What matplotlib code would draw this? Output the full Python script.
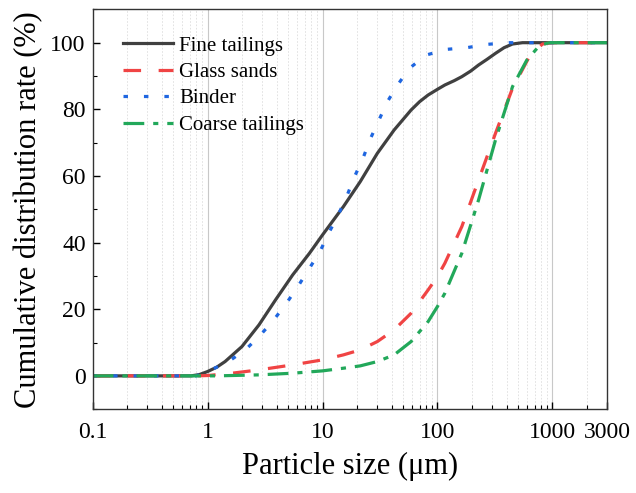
import matplotlib.pyplot as plt
from matplotlib.ticker import FixedLocator, LogLocator, NullFormatter, MultipleLocator

plt.rcParams['font.family'] = 'Liberation Serif'

# Fine tailings
fine_x = [0.1, 0.5, 0.72, 0.85, 1.0, 1.2, 1.42, 1.99, 2.8, 3.9, 5.5, 7.7, 10, 15.2, 21.3, 30, 42, 59, 70, 83,
          100, 116, 140, 163, 195, 228, 270, 320, 380, 450, 550, 700, 3000]
fine_y = [0, 0, 0, 0.4, 1.3, 2.6, 4.3, 8.8, 15.3, 22.8, 30.3, 36.8, 42.3, 50.8, 58.3, 66.8, 73.8, 79.8, 82.3, 84.3,
          86.0, 87.3, 88.6, 89.8, 91.5, 93.3, 95.0, 96.8, 98.5, 99.6, 100, 100, 100]

# Glass sands
glass_x = [0.1, 0.8, 1.0, 1.63, 2.8, 5.5, 10, 15.2, 21.3, 30, 42, 59, 83, 100, 116, 163, 228, 320,
           450, 630, 820, 1000, 3000]
glass_y = [0, 0, 0.1, 0.8, 1.8, 3.3, 4.8, 6.3, 7.8, 10.3, 13.8, 18.8, 25.8, 29.8, 33.8, 44.8, 58.8, 72.8,
           86.3, 95.8, 99.6, 100, 100]

# Binder
binder_x = [0.1, 0.8, 1.0, 1.52, 2.13, 2.8, 3.67, 4.81, 6.1, 7.6, 9.5, 11.3, 13.7, 16.3, 19, 22.5,
            26.2, 31, 36.7, 45, 57, 80, 120, 180, 270, 420, 3000]
binder_y = [0, 0, 1.3, 4.3, 7.8, 11.8, 16.3, 21.6, 26.8, 32, 37.3, 42.8, 48.3, 54, 59.8, 65.3,
            71.3, 76.8, 82.3, 87.3, 92.3, 96.3, 98, 98.5, 99.5, 100, 100]

# Coarse tailings
coarse_x = [0.1, 1.2, 2.8, 5.5, 10, 15.2, 21.3, 30, 42, 59, 83, 100, 116, 163, 228, 320, 450, 600,
            780, 950, 3000]
coarse_y = [0, 0, 0.3, 0.8, 1.5, 2.3, 3.0, 4.3, 6.3, 10.3, 16.3, 20.8, 24.8, 36.8, 52.8, 70.8, 86.8, 94.8,
            99.3, 100, 100]

x_ticks = [0.1, 1, 10, 100, 1000, 3000]
x_labels = ['0.1', '1', '10', '100', '1000', '3000']

fig = plt.figure(figsize=(6.36, 4.93), dpi=100)
ax = fig.add_axes([0.1457, 0.170, 0.809, 0.811])

ax.plot(fine_x, fine_y, color='#404040', lw=2.3, label='Fine tailings')
ax.plot(glass_x, glass_y, color='#f04444', lw=2.3, ls=(0, (5.5, 5.5)), label='Glass sands')
ax.plot(binder_x, binder_y, color='#1f66e0', lw=2.3, ls=(0, (1.4, 5.0)), label='Binder')
ax.plot(coarse_x, coarse_y, color='#22a85a', lw=2.3, ls=(0, (6.5, 2.8, 1.6, 2.8)), label='Coarse tailings')

ax.set_xscale('log')
ax.set_xlim(0.1, 3000)
ax.set_ylim(-10, 110)
ax.xaxis.set_major_locator(FixedLocator(x_ticks))
ax.set_xticklabels(x_labels)
ax.xaxis.set_minor_locator(LogLocator(base=10, subs=[2, 3, 4, 5, 6, 7, 8, 9], numticks=20))
ax.xaxis.set_minor_formatter(NullFormatter())
ax.yaxis.set_major_locator(MultipleLocator(20))
ax.yaxis.set_minor_locator(MultipleLocator(10))
ax.set_yticks([0, 20, 40, 60, 80, 100])

ax.tick_params(which='both', direction='in', labelsize=17)
ax.tick_params(axis='x', pad=9)
ax.tick_params(axis='y', pad=5)
ax.tick_params(which='major', length=5, width=1)
ax.tick_params(which='minor', length=3, width=0.8)

# vertical grid only
for xv in [1, 10, 100, 1000]:
    ax.axvline(xv, color='#c8c8c8', lw=0.8, zorder=0)
ax.grid(True, which='minor', axis='x', color='#dddddd', lw=0.6, ls=(0, (2, 2)), zorder=0)

for s in ax.spines.values():
    s.set_color('#333333')
    s.set_linewidth(1.0)

ax.set_xlabel('Particle size (μm)', fontsize=22, labelpad=7)
ax.set_ylabel('Cumulative distribution rate (%)', fontsize=22, labelpad=5)

ax.legend(loc='upper left', frameon=False, fontsize=15, handlelength=2.4, handletextpad=0.3,
          labelspacing=0.33, borderaxespad=0.3, bbox_to_anchor=(0.03, 0.97))

fig.savefig('out.png', dpi=100)
